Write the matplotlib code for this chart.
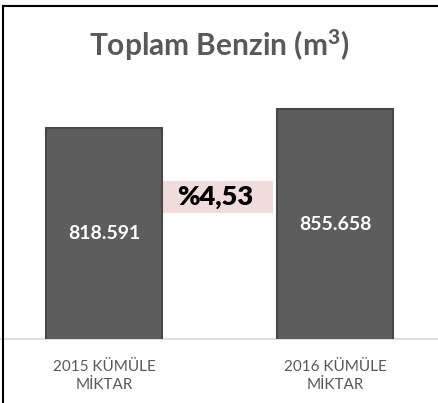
import matplotlib
matplotlib.use("Agg")
import matplotlib.pyplot as plt
from matplotlib.lines import Line2D
from matplotlib.patches import Rectangle

# data
categories = ["2015 KÜMÜLE\nMİKTAR", "2016 KÜMÜLE\nMİKTAR"]
values = [818591, 855658]
value_labels = ["818.591", "855.658"]
title = r"Toplam Benzin (m$^{\mathbf{3}}$)"

plt.rcParams['font.family'] = ['Lato', 'DejaVu Sans']
plt.rcParams['mathtext.fontset'] = 'custom'
plt.rcParams['mathtext.rm'] = 'Lato:weight=bold'
plt.rcParams['mathtext.bf'] = 'Lato:weight=black'
plt.rcParams['mathtext.default'] = 'bf'


def main():
    W, H = 438, 403
    fig = plt.figure(figsize=(W / 100, H / 100), dpi=100)
    fig.patch.set_facecolor("white")

    # axes spans full width; bottom at 339 px, top at 87 px
    ax = fig.add_axes([0, 1 - 339 / H, 1, (339 - 87) / H])
    ymin, ymax = 400000, 900000
    x = [0, 1]
    width = 0.5
    ax.bar(x, values, width=width, color="#5d5d5d", edgecolor="#474747",
           linewidth=1.5, zorder=3)
    ax.set_ylim(ymin, ymax)
    ax.set_xlim(-104 / 231, (438 - 104) / 231)

    for xi, v, lab in zip(x, values, value_labels):
        ax.text(xi, (ymin + v) / 2, lab, ha="center", va="center",
                color="white", fontsize=14, fontweight="bold", zorder=4)

    # percentage change box
    pct = (values[1] / values[0] - 1) * 100
    pct_txt = "%" + f"{pct:.2f}".replace(".", ",")
    bx0 = x[0] + width / 2
    bx1 = (273 - 104) / 231
    by0, by1 = 650000, 713500
    ax.add_patch(Rectangle((bx0, by0), bx1 - bx0, by1 - by0,
                           facecolor="#f2dcdb", edgecolor="none", zorder=2))
    ax.text((bx0 + bx1) / 2 - 0.01, (by0 + by1) / 2, pct_txt, ha="center",
            va="center", fontsize=19.5, fontweight="heavy", color="black",
            zorder=4)

    ax.set_xticks(x)
    ax.set_xticklabels(categories, fontsize=11, color="#595959",
                       linespacing=1.35)
    ax.tick_params(axis="x", length=0, pad=15)
    ax.set_yticks([])
    for s in ["left", "right", "top"]:
        ax.spines[s].set_visible(False)
    ax.spines["bottom"].set_color("#d9d9d9")
    ax.spines["bottom"].set_linewidth(1.2)
    ax.set_facecolor("none")

    fig.text(219 / W, 1 - 45 / H, title, ha="center", va="center",
             fontsize=21.5, fontweight="bold", color="#595959")

    # frame lines (left and top)
    fig.add_artist(Line2D([3 / W, 3 / W], [0, 1 - 6 / H],
                          transform=fig.transFigure, color="black", lw=1.5))
    fig.add_artist(Line2D([3 / W, 1], [1 - 6 / H, 1 - 6 / H],
                          transform=fig.transFigure, color="black", lw=1.5))

    fig.savefig("out.png", dpi=100)


if __name__ == "__main__":
    main()
